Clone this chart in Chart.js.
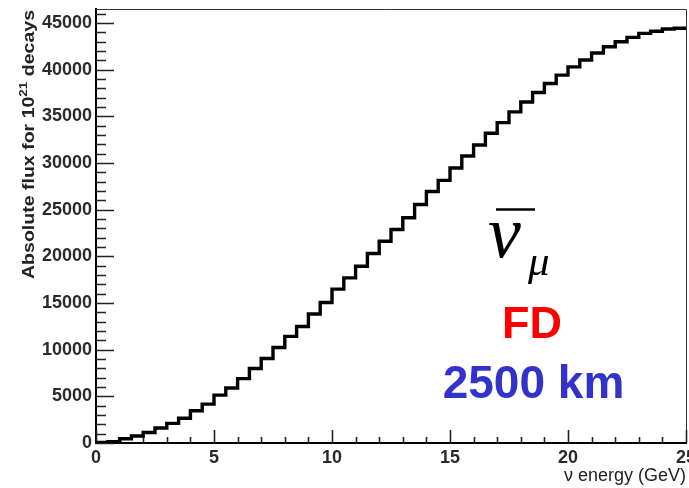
<!DOCTYPE html>
<html><head><meta charset="utf-8">
<script src="https://cdn.jsdelivr.net/npm/chart.js@4.4.1/dist/chart.umd.min.js"></script>
<style>html,body{margin:0;padding:0;background:#fff;overflow:hidden}#wrap{width:689px;height:488px;position:relative}</style>
</head><body><div id="wrap"><canvas id="c" width="689" height="488"></canvas></div>
<script>
// ---- data ----
const binLowEdges = [0,0.5,1,1.5,2,2.5,3,3.5,4,4.5,5,5.5,6,6.5,7,7.5,8,8.5,9,9.5,10,10.5,11,11.5,12,12.5,13,13.5,14,14.5,15,15.5,16,16.5,17,17.5,18,18.5,19,19.5,20,20.5,21,21.5,22,22.5,23,23.5,24,24.5];
const binUpperEdge = 25;
const fluxValues = [50,150,450,750,1120,1600,2100,2650,3450,4170,5130,5900,6900,7980,9050,10240,11420,12490,13820,15060,16490,17690,18940,20310,21620,22880,24130,25560,26950,28140,29460,30750,31930,33180,34330,35480,36540,37560,38520,39420,40300,41030,41780,42460,42990,43460,43890,44110,44360,44430];
const xTickLabels = [0,5,10,15,20,25];
const yTickLabels = [0,5000,10000,15000,20000,25000,30000,35000,40000,45000];
const xRange = [0,25];
const yRange = [0,46500];
const xTitle = 'ν energy (GeV)';
const yTitleParts = ['Absolute flux for 10', '21', ' decays'];
const particleText = 'ν';
const particleSub = 'μ';
const detectorText = 'FD';
const baselineText = '2500 km';

// step points: each bin starts at its low edge, last point closes the final bin
const stepPoints = binLowEdges.map((x, i) => ({x: x, y: fluxValues[i]}));
stepPoints.push({x: binUpperEdge, y: fluxValues[fluxValues.length - 1]});

const SANS = '"Liberation Sans", Arial, Helvetica, sans-serif';
const SERIF = '"Liberation Serif", "Times New Roman", serif';

const decorPlugin = {
  id: 'decor',
  beforeDatasetsDraw(chart) {
    const {ctx, chartArea: a, scales: {x, y}} = chart;
    ctx.save();
    ctx.strokeStyle = '#333';
    ctx.lineWidth = 1;
    ctx.beginPath();
    ctx.moveTo(a.left, a.top + 0.5); ctx.lineTo(a.right + 0.5, a.top + 0.5); ctx.lineTo(a.right + 0.5, a.bottom);
    ctx.stroke();
    ctx.strokeStyle = '#222';
    ctx.lineWidth = 1.6;
    ctx.beginPath();
    for (let v = x.min; v <= x.max + 1e-9; v += 1) {
      const px = Math.round(x.getPixelForValue(v)) + 0.5;
      const len = (Math.abs(v % 5) < 1e-9) ? 13 : 6;
      ctx.moveTo(px, a.bottom); ctx.lineTo(px, a.bottom - len);
    }
    for (let v = 0; v <= y.max; v += 1000) {
      const py = Math.round(y.getPixelForValue(v)) + 0.5;
      const len = (v % 5000 === 0) ? 18 : 10;
      ctx.moveTo(a.left, py); ctx.lineTo(a.left + len, py);
    }
    ctx.stroke();
    ctx.restore();
  },
  afterDraw(chart) {
    const {ctx} = chart;
    ctx.save();
    const big = 'bold 16px ' + SANS, small = 'bold 11px ' + SANS;
    ctx.font = big;
    const w0 = ctx.measureText(yTitleParts[0]).width;
    const w2 = ctx.measureText(yTitleParts[2]).width;
    ctx.font = small;
    const w1 = ctx.measureText(yTitleParts[1]).width;
    const total = w0 + w1 + w2;
    const target = 269;
    ctx.translate(33.5, 279);
    ctx.rotate(-Math.PI / 2);
    ctx.scale(target / total, 1);
    ctx.fillStyle = '#222';
    ctx.textAlign = 'left';
    ctx.textBaseline = 'alphabetic';
    ctx.font = big;
    ctx.fillText(yTitleParts[0], 0, 0);
    ctx.font = small;
    ctx.fillText(yTitleParts[1], w0, -7);
    ctx.font = big;
    ctx.fillText(yTitleParts[2], w0 + w1, 0);
    ctx.restore();

    ctx.save();
    ctx.fillStyle = '#000';
    ctx.textAlign = 'left';
    ctx.textBaseline = 'alphabetic';
    ctx.font = 'italic 74px ' + SERIF;
    ctx.fillText(particleText, 488, 257);
    ctx.strokeStyle = '#000';
    ctx.lineWidth = 2.5;
    ctx.beginPath(); ctx.moveTo(496, 209.5); ctx.lineTo(535, 209.5); ctx.stroke();
    ctx.font = 'italic 43px ' + SERIF;
    ctx.fillText(particleSub, 528, 275);
    ctx.textAlign = 'center';
    ctx.fillStyle = '#ff0000';
    ctx.font = 'bold 45px ' + SANS;
    ctx.fillText(detectorText, 532, 338);
    ctx.fillStyle = '#3333cc';
    ctx.font = 'bold 46px ' + SANS;
    ctx.fillText(baselineText, 533.5, 398);
    ctx.restore();
  }
};

new Chart(document.getElementById('c'), {
  type: 'line',
  data: {
    datasets: [{
      data: stepPoints,
      stepped: true,
      borderColor: '#000',
      borderWidth: 3.4,
      pointRadius: 0,
      fill: false,
      borderCapStyle: 'butt',
      borderJoinStyle: 'miter'
    }]
  },
  options: {
    responsive: false,
    animation: false,
    devicePixelRatio: 1,
    layout: {padding: {top: 9, right: 3, left: 0, bottom: 0}},
    plugins: {legend: {display: false}, tooltip: {enabled: false}},
    scales: {
      x: {
        type: 'linear', min: xRange[0], max: xRange[1],
        grid: {display: false, drawTicks: false},
        border: {display: true, color: '#000', width: 2},
        ticks: {
          autoSkip: false, maxRotation: 0, padding: 4,
          color: '#2a2a2a', font: {family: SANS, size: 18, weight: 'bold'},
          callback: v => String(v)
        },
        afterBuildTicks: s => { s.ticks = xTickLabels.map(v => ({value: v})); },
        title: {display: true, text: xTitle, align: 'end', color: '#222',
                font: {family: SANS, size: 18}, padding: {top: 0, bottom: 1}},
        afterFit: s => { s.height = 45; s.paddingLeft = 0; s.paddingRight = 0; }
      },
      y: {
        type: 'linear', min: yRange[0], max: yRange[1],
        grid: {display: false, drawTicks: false},
        border: {display: true, color: '#000', width: 2},
        ticks: {
          autoSkip: false, padding: 4,
          color: '#2a2a2a', font: {family: SANS, size: 18, weight: 'bold'},
          callback: v => String(v)
        },
        afterBuildTicks: s => { s.ticks = yTickLabels.map(v => ({value: v})); },
        afterFit: s => { s.width = 96; s.paddingTop = 0; s.paddingBottom = 0; }
      }
    }
  },
  plugins: [decorPlugin]
});
</script></body></html>
